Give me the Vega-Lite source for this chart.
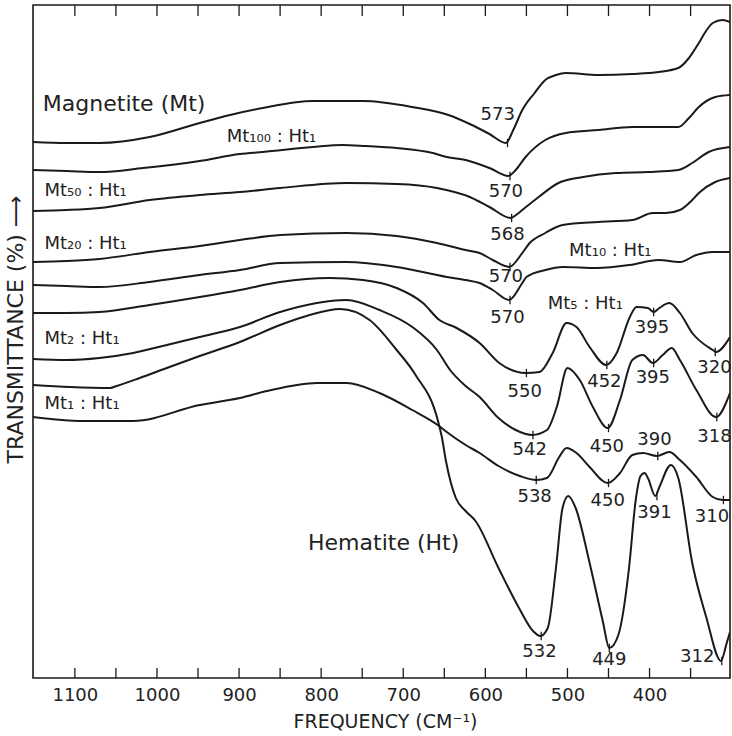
{
  "$schema": "https://vega.github.io/schema/vega-lite/v6.json",
  "width": 697,
  "height": 673,
  "autosize": {"type": "none"},
  "padding": {"left": 33, "top": 5, "right": 2, "bottom": 58},
  "background": "white",
  "config": {
    "view": {"stroke": "#1a1a1a", "strokeWidth": 1.6},
    "font": "DejaVu Sans"
  },
  "datasets": {
    "spectra": [
      {"sample":"Mt","freq":1151,"T":536},{"sample":"Mt","freq":1110,"T":535},{"sample":"Mt","freq":1070,"T":535},{"sample":"Mt","freq":1009,"T":541},{"sample":"Mt","freq":948,"T":555},{"sample":"Mt","freq":911,"T":563},{"sample":"Mt","freq":871,"T":570},{"sample":"Mt","freq":810,"T":577},{"sample":"Mt","freq":749,"T":577},{"sample":"Mt","freq":689,"T":571},{"sample":"Mt","freq":645,"T":563},{"sample":"Mt","freq":619,"T":554},{"sample":"Mt","freq":595,"T":544},{"sample":"Mt","freq":575,"T":535},{"sample":"Mt","freq":566,"T":548},{"sample":"Mt","freq":555,"T":568},{"sample":"Mt","freq":540,"T":585},{"sample":"Mt","freq":527,"T":598},{"sample":"Mt","freq":514,"T":603},{"sample":"Mt","freq":502,"T":605},{"sample":"Mt","freq":462,"T":603},{"sample":"Mt","freq":421,"T":604},{"sample":"Mt","freq":389,"T":606},{"sample":"Mt","freq":365,"T":610},{"sample":"Mt","freq":352,"T":620},{"sample":"Mt","freq":340,"T":635},{"sample":"Mt","freq":332,"T":646},{"sample":"Mt","freq":323,"T":655},{"sample":"Mt","freq":311,"T":658},{"sample":"Mt","freq":302,"T":656},
      {"sample":"Mt100","freq":1151,"T":508},{"sample":"Mt100","freq":1110,"T":507},{"sample":"Mt100","freq":1070,"T":506},{"sample":"Mt100","freq":1017,"T":510},{"sample":"Mt100","freq":948,"T":517},{"sample":"Mt100","freq":899,"T":524},{"sample":"Mt100","freq":871,"T":526},{"sample":"Mt100","freq":810,"T":531},{"sample":"Mt100","freq":774,"T":533},{"sample":"Mt100","freq":746,"T":532},{"sample":"Mt100","freq":708,"T":530},{"sample":"Mt100","freq":664,"T":525},{"sample":"Mt100","freq":647,"T":521},{"sample":"Mt100","freq":624,"T":518},{"sample":"Mt100","freq":595,"T":510},{"sample":"Mt100","freq":572,"T":502},{"sample":"Mt100","freq":563,"T":508},{"sample":"Mt100","freq":551,"T":521},{"sample":"Mt100","freq":527,"T":538},{"sample":"Mt100","freq":502,"T":545},{"sample":"Mt100","freq":462,"T":548},{"sample":"Mt100","freq":421,"T":551},{"sample":"Mt100","freq":365,"T":551},{"sample":"Mt100","freq":352,"T":560},{"sample":"Mt100","freq":340,"T":571},{"sample":"Mt100","freq":320,"T":581},{"sample":"Mt100","freq":302,"T":583},
      {"sample":"Mt50","freq":1151,"T":467},{"sample":"Mt50","freq":1110,"T":468},{"sample":"Mt50","freq":1070,"T":470},{"sample":"Mt50","freq":1009,"T":478},{"sample":"Mt50","freq":948,"T":483},{"sample":"Mt50","freq":899,"T":486},{"sample":"Mt50","freq":850,"T":490},{"sample":"Mt50","freq":769,"T":495},{"sample":"Mt50","freq":708,"T":494},{"sample":"Mt50","freq":659,"T":490},{"sample":"Mt50","freq":619,"T":481},{"sample":"Mt50","freq":595,"T":471},{"sample":"Mt50","freq":569,"T":460},{"sample":"Mt50","freq":561,"T":464},{"sample":"Mt50","freq":555,"T":468},{"sample":"Mt50","freq":535,"T":481},{"sample":"Mt50","freq":511,"T":495},{"sample":"Mt50","freq":481,"T":501},{"sample":"Mt50","freq":441,"T":505},{"sample":"Mt50","freq":401,"T":506},{"sample":"Mt50","freq":365,"T":508},{"sample":"Mt50","freq":348,"T":515},{"sample":"Mt50","freq":328,"T":526},{"sample":"Mt50","freq":302,"T":531},
      {"sample":"Mt20","freq":1151,"T":416},{"sample":"Mt20","freq":1110,"T":417},{"sample":"Mt20","freq":1070,"T":419},{"sample":"Mt20","freq":1009,"T":426},{"sample":"Mt20","freq":948,"T":432},{"sample":"Mt20","freq":899,"T":438},{"sample":"Mt20","freq":850,"T":443},{"sample":"Mt20","freq":769,"T":445},{"sample":"Mt20","freq":708,"T":442},{"sample":"Mt20","freq":659,"T":435},{"sample":"Mt20","freq":624,"T":428},{"sample":"Mt20","freq":607,"T":425},{"sample":"Mt20","freq":591,"T":418},{"sample":"Mt20","freq":571,"T":411},{"sample":"Mt20","freq":555,"T":425},{"sample":"Mt20","freq":546,"T":435},{"sample":"Mt20","freq":527,"T":445},{"sample":"Mt20","freq":506,"T":453},{"sample":"Mt20","freq":462,"T":456},{"sample":"Mt20","freq":421,"T":458},{"sample":"Mt20","freq":396,"T":465},{"sample":"Mt20","freq":380,"T":465},{"sample":"Mt20","freq":363,"T":468},{"sample":"Mt20","freq":348,"T":478},{"sample":"Mt20","freq":340,"T":485},{"sample":"Mt20","freq":320,"T":496},{"sample":"Mt20","freq":302,"T":500},
      {"sample":"Mt10","freq":1151,"T":393},{"sample":"Mt10","freq":1110,"T":392},{"sample":"Mt10","freq":1070,"T":391},{"sample":"Mt10","freq":1009,"T":396},{"sample":"Mt10","freq":948,"T":403},{"sample":"Mt10","freq":899,"T":408},{"sample":"Mt10","freq":850,"T":415},{"sample":"Mt10","freq":769,"T":416},{"sample":"Mt10","freq":708,"T":411},{"sample":"Mt10","freq":647,"T":401},{"sample":"Mt10","freq":624,"T":398},{"sample":"Mt10","freq":607,"T":395},{"sample":"Mt10","freq":591,"T":388},{"sample":"Mt10","freq":571,"T":378},{"sample":"Mt10","freq":555,"T":395},{"sample":"Mt10","freq":550,"T":401},{"sample":"Mt10","freq":527,"T":408},{"sample":"Mt10","freq":506,"T":411},{"sample":"Mt10","freq":464,"T":410},{"sample":"Mt10","freq":424,"T":413},{"sample":"Mt10","freq":389,"T":418},{"sample":"Mt10","freq":363,"T":416},{"sample":"Mt10","freq":343,"T":423},{"sample":"Mt10","freq":323,"T":426},{"sample":"Mt10","freq":302,"T":426},
      {"sample":"Mt5","freq":1151,"T":365},{"sample":"Mt5","freq":1110,"T":365},{"sample":"Mt5","freq":1070,"T":366},{"sample":"Mt5","freq":1009,"T":373},{"sample":"Mt5","freq":948,"T":381},{"sample":"Mt5","freq":899,"T":388},{"sample":"Mt5","freq":850,"T":396},{"sample":"Mt5","freq":790,"T":400},{"sample":"Mt5","freq":749,"T":398},{"sample":"Mt5","freq":708,"T":390},{"sample":"Mt5","freq":676,"T":375},{"sample":"Mt5","freq":656,"T":358},{"sample":"Mt5","freq":635,"T":350},{"sample":"Mt5","freq":607,"T":335},{"sample":"Mt5","freq":583,"T":315},{"sample":"Mt5","freq":551,"T":305},{"sample":"Mt5","freq":534,"T":306},{"sample":"Mt5","freq":518,"T":325},{"sample":"Mt5","freq":501,"T":355},{"sample":"Mt5","freq":489,"T":351},{"sample":"Mt5","freq":473,"T":331},{"sample":"Mt5","freq":453,"T":313},{"sample":"Mt5","freq":440,"T":325},{"sample":"Mt5","freq":424,"T":361},{"sample":"Mt5","freq":416,"T":371},{"sample":"Mt5","freq":402,"T":370},{"sample":"Mt5","freq":395,"T":366},{"sample":"Mt5","freq":388,"T":370},{"sample":"Mt5","freq":376,"T":375},{"sample":"Mt5","freq":363,"T":365},{"sample":"Mt5","freq":348,"T":345},{"sample":"Mt5","freq":323,"T":328},{"sample":"Mt5","freq":319,"T":326},{"sample":"Mt5","freq":302,"T":341},
      {"sample":"Mt2","freq":1151,"T":319},{"sample":"Mt2","freq":1110,"T":318},{"sample":"Mt2","freq":1070,"T":320},{"sample":"Mt2","freq":1029,"T":325},{"sample":"Mt2","freq":988,"T":333},{"sample":"Mt2","freq":948,"T":341},{"sample":"Mt2","freq":899,"T":351},{"sample":"Mt2","freq":850,"T":366},{"sample":"Mt2","freq":769,"T":378},{"sample":"Mt2","freq":729,"T":368},{"sample":"Mt2","freq":689,"T":351},{"sample":"Mt2","freq":659,"T":328},{"sample":"Mt2","freq":643,"T":308},{"sample":"Mt2","freq":624,"T":292},{"sample":"Mt2","freq":607,"T":281},{"sample":"Mt2","freq":584,"T":260},{"sample":"Mt2","freq":563,"T":248},{"sample":"Mt2","freq":543,"T":243},{"sample":"Mt2","freq":525,"T":248},{"sample":"Mt2","freq":513,"T":271},{"sample":"Mt2","freq":500,"T":310},{"sample":"Mt2","freq":485,"T":298},{"sample":"Mt2","freq":469,"T":271},{"sample":"Mt2","freq":451,"T":250},{"sample":"Mt2","freq":436,"T":278},{"sample":"Mt2","freq":421,"T":318},{"sample":"Mt2","freq":408,"T":323},{"sample":"Mt2","freq":396,"T":315},{"sample":"Mt2","freq":384,"T":323},{"sample":"Mt2","freq":373,"T":330},{"sample":"Mt2","freq":363,"T":318},{"sample":"Mt2","freq":343,"T":288},{"sample":"Mt2","freq":319,"T":261},{"sample":"Mt2","freq":302,"T":285},
      {"sample":"Mt1","freq":1151,"T":261},{"sample":"Mt1","freq":1090,"T":257},{"sample":"Mt1","freq":1029,"T":257},{"sample":"Mt1","freq":948,"T":273},{"sample":"Mt1","freq":899,"T":280},{"sample":"Mt1","freq":866,"T":287},{"sample":"Mt1","freq":805,"T":295},{"sample":"Mt1","freq":769,"T":295},{"sample":"Mt1","freq":729,"T":285},{"sample":"Mt1","freq":689,"T":268},{"sample":"Mt1","freq":658,"T":253},{"sample":"Mt1","freq":647,"T":246},{"sample":"Mt1","freq":624,"T":233},{"sample":"Mt1","freq":607,"T":225},{"sample":"Mt1","freq":584,"T":212},{"sample":"Mt1","freq":558,"T":202},{"sample":"Mt1","freq":538,"T":198},{"sample":"Mt1","freq":525,"T":200},{"sample":"Mt1","freq":510,"T":221},{"sample":"Mt1","freq":501,"T":230},{"sample":"Mt1","freq":489,"T":225},{"sample":"Mt1","freq":473,"T":211},{"sample":"Mt1","freq":451,"T":195},{"sample":"Mt1","freq":436,"T":205},{"sample":"Mt1","freq":421,"T":223},{"sample":"Mt1","freq":408,"T":225},{"sample":"Mt1","freq":391,"T":222},{"sample":"Mt1","freq":376,"T":226},{"sample":"Mt1","freq":363,"T":218},{"sample":"Mt1","freq":343,"T":201},{"sample":"Mt1","freq":323,"T":181},{"sample":"Mt1","freq":311,"T":178},{"sample":"Mt1","freq":302,"T":178},
      {"sample":"Ht","freq":1151,"T":293},{"sample":"Ht","freq":1106,"T":291},{"sample":"Ht","freq":1057,"T":290},{"sample":"Ht","freq":1049,"T":292},{"sample":"Ht","freq":1021,"T":300},{"sample":"Ht","freq":988,"T":310},{"sample":"Ht","freq":948,"T":322},{"sample":"Ht","freq":899,"T":336},{"sample":"Ht","freq":850,"T":353},{"sample":"Ht","freq":814,"T":363},{"sample":"Ht","freq":777,"T":369},{"sample":"Ht","freq":741,"T":358},{"sample":"Ht","freq":708,"T":328},{"sample":"Ht","freq":685,"T":303},{"sample":"Ht","freq":658,"T":258},{"sample":"Ht","freq":653,"T":241},{"sample":"Ht","freq":648,"T":217},{"sample":"Ht","freq":636,"T":180},{"sample":"Ht","freq":624,"T":167},{"sample":"Ht","freq":612,"T":157},{"sample":"Ht","freq":584,"T":110},{"sample":"Ht","freq":559,"T":70},{"sample":"Ht","freq":542,"T":47},{"sample":"Ht","freq":533,"T":42},{"sample":"Ht","freq":524,"T":50},{"sample":"Ht","freq":514,"T":110},{"sample":"Ht","freq":506,"T":170},{"sample":"Ht","freq":499,"T":182},{"sample":"Ht","freq":490,"T":170},{"sample":"Ht","freq":473,"T":115},{"sample":"Ht","freq":457,"T":57},{"sample":"Ht","freq":449,"T":30},{"sample":"Ht","freq":438,"T":43},{"sample":"Ht","freq":425,"T":110},{"sample":"Ht","freq":417,"T":177},{"sample":"Ht","freq":411,"T":202},{"sample":"Ht","freq":406,"T":205},{"sample":"Ht","freq":402,"T":200},{"sample":"Ht","freq":393,"T":182},{"sample":"Ht","freq":388,"T":191},{"sample":"Ht","freq":374,"T":213},{"sample":"Ht","freq":365,"T":200},{"sample":"Ht","freq":348,"T":115},{"sample":"Ht","freq":331,"T":61},{"sample":"Ht","freq":313,"T":17},{"sample":"Ht","freq":306,"T":35},{"sample":"Ht","freq":302,"T":46}
    ],
    "minima": [
      {"freq":573,"T":535},{"freq":570,"T":502},{"freq":568,"T":460},{"freq":570,"T":411},{"freq":570,"T":378},
      {"freq":550,"T":305},{"freq":452,"T":313},{"freq":395,"T":366},{"freq":320,"T":326},
      {"freq":542,"T":243},{"freq":450,"T":250},{"freq":395,"T":315},{"freq":318,"T":261},
      {"freq":538,"T":198},{"freq":450,"T":195},{"freq":390,"T":222},{"freq":310,"T":178},
      {"freq":532,"T":42},{"freq":449,"T":30},{"freq":391,"T":182},{"freq":312,"T":17}
    ],
    "peaks": [
      {"text":"573","freq":585,"T":563},{"text":"570","freq":575,"T":486},{"text":"568","freq":573,"T":443},{"text":"570","freq":575,"T":401},{"text":"570","freq":573,"T":360},
      {"text":"550","freq":552,"T":286},{"text":"452","freq":455,"T":296},{"text":"395","freq":397,"T":350},{"text":"320","freq":321,"T":310},
      {"text":"542","freq":546,"T":228},{"text":"450","freq":452,"T":231},{"text":"395","freq":396,"T":300},{"text":"318","freq":321,"T":241},
      {"text":"390","freq":394,"T":238},{"text":"538","freq":540,"T":181},{"text":"450","freq":451,"T":177},{"text":"391","freq":394,"T":165},{"text":"310","freq":324,"T":161},
      {"text":"532","freq":534,"T":26},{"text":"449","freq":449,"T":18},{"text":"312","freq":342,"T":21}
    ],
    "minerals": [
      {"text":"Magnetite (Mt)","freq":1139,"T":567},
      {"text":"Hematite (Ht)","freq":816,"T":128}
    ],
    "mixtures": [
      {"text":"Mt₁₀₀ : Ht₁","freq":915,"T":536},
      {"text":"Mt₅₀ : Ht₁","freq":1137,"T":482},
      {"text":"Mt₂₀ : Ht₁","freq":1137,"T":429},
      {"text":"Mt₁₀ : Ht₁","freq":498,"T":422},
      {"text":"Mt₅ : Ht₁","freq":524,"T":369},
      {"text":"Mt₂ : Ht₁","freq":1137,"T":334},
      {"text":"Mt₁ : Ht₁","freq":1137,"T":269}
    ],
    "gridfreq": [
      {"freq":1100},{"freq":1050},{"freq":1000},{"freq":950},{"freq":900},{"freq":850},{"freq":800},{"freq":750},
      {"freq":700},{"freq":650},{"freq":600},{"freq":550},{"freq":500},{"freq":450},{"freq":400},{"freq":350}
    ]
  },
  "resolve": {"axis": {"x": "independent"}},
  "layer": [
    {
      "data": {"name": "spectra"},
      "mark": {"type": "line", "interpolate": "monotone", "stroke": "#1a1a1a", "strokeWidth": 2, "clip": true},
      "encoding": {
        "x": {"field": "freq", "type": "quantitative",
              "scale": {"domain": [302, 1151], "reverse": true, "nice": false, "zero": false},
              "axis": {"orient": "bottom", "values": [1100,1000,900,800,700,600,500,400],
                       "format": "d", "ticks": false, "domain": false, "grid": false,
                       "labelFont": "DejaVu Sans", "labelFontSize": 18, "labelColor": "#222", "labelPadding": 22,
                       "labelBaseline": "alphabetic", "labelFlush": false, "labelOverlap": false,
                       "title": "FREQUENCY (CM⁻¹)", "titleFont": "DejaVu Sans", "titleFontSize": 19, "titleFontWeight": "normal",
                       "titleColor": "#222", "titleX": 352, "titleY": 49, "titleBaseline": "alphabetic", "titleAlign": "center"}},
        "y": {"field": "T", "type": "quantitative",
              "scale": {"domain": [0, 673], "nice": false, "zero": false},
              "axis": {"orient": "left", "labels": false, "ticks": false, "domain": false, "grid": false,
                       "title": "TRANSMITTANCE (%) ⟶", "titleFont": "DejaVu Sans", "titleFontSize": 22, "titleFontWeight": "normal",
                       "titleColor": "#222", "titleX": -18, "titleY": 324, "titleAngle": -90, "titleAlign": "center", "titleBaseline": "middle"}},
        "detail": {"field": "sample", "type": "nominal"}
      }
    },
    {
      "data": {"name": "gridfreq"},
      "mark": {"type": "rule", "stroke": "#1a1a1a", "strokeWidth": 1.3},
      "encoding": {
        "x": {"field": "freq", "type": "quantitative", "axis": null},
        "y": {"datum": 673, "type": "quantitative"},
        "y2": {"datum": 662}
      }
    },
    {
      "data": {"name": "gridfreq"},
      "mark": {"type": "rule", "stroke": "#1a1a1a", "strokeWidth": 1.3},
      "encoding": {
        "x": {"field": "freq", "type": "quantitative", "axis": null},
        "y": {"datum": 0, "type": "quantitative"},
        "y2": {"datum": 10}
      }
    },
    {
      "data": {"name": "minima"},
      "mark": {"type": "point", "shape": "M0,-1L0,1", "size": 70, "filled": false, "stroke": "#1a1a1a", "strokeWidth": 1.3, "opacity": 1},
      "encoding": {
        "x": {"field": "freq", "type": "quantitative", "axis": null},
        "y": {"field": "T", "type": "quantitative"}
      }
    },
    {
      "data": {"name": "peaks"},
      "mark": {"type": "text", "align": "center", "baseline": "middle", "font": "DejaVu Sans", "fontSize": 18, "fill": "#222"},
      "encoding": {
        "x": {"field": "freq", "type": "quantitative", "axis": null},
        "y": {"field": "T", "type": "quantitative"},
        "text": {"field": "text"}
      }
    },
    {
      "data": {"name": "minerals"},
      "mark": {"type": "text", "align": "left", "baseline": "alphabetic", "font": "DejaVu Sans", "fontSize": 22, "fill": "#222"},
      "encoding": {
        "x": {"field": "freq", "type": "quantitative", "axis": null},
        "y": {"field": "T", "type": "quantitative"},
        "text": {"field": "text"}
      }
    },
    {
      "data": {"name": "mixtures"},
      "mark": {"type": "text", "align": "left", "baseline": "alphabetic", "font": "DejaVu Sans", "fontSize": 18, "fill": "#222"},
      "encoding": {
        "x": {"field": "freq", "type": "quantitative", "axis": null},
        "y": {"field": "T", "type": "quantitative"},
        "text": {"field": "text"}
      }
    }
  ]
}
